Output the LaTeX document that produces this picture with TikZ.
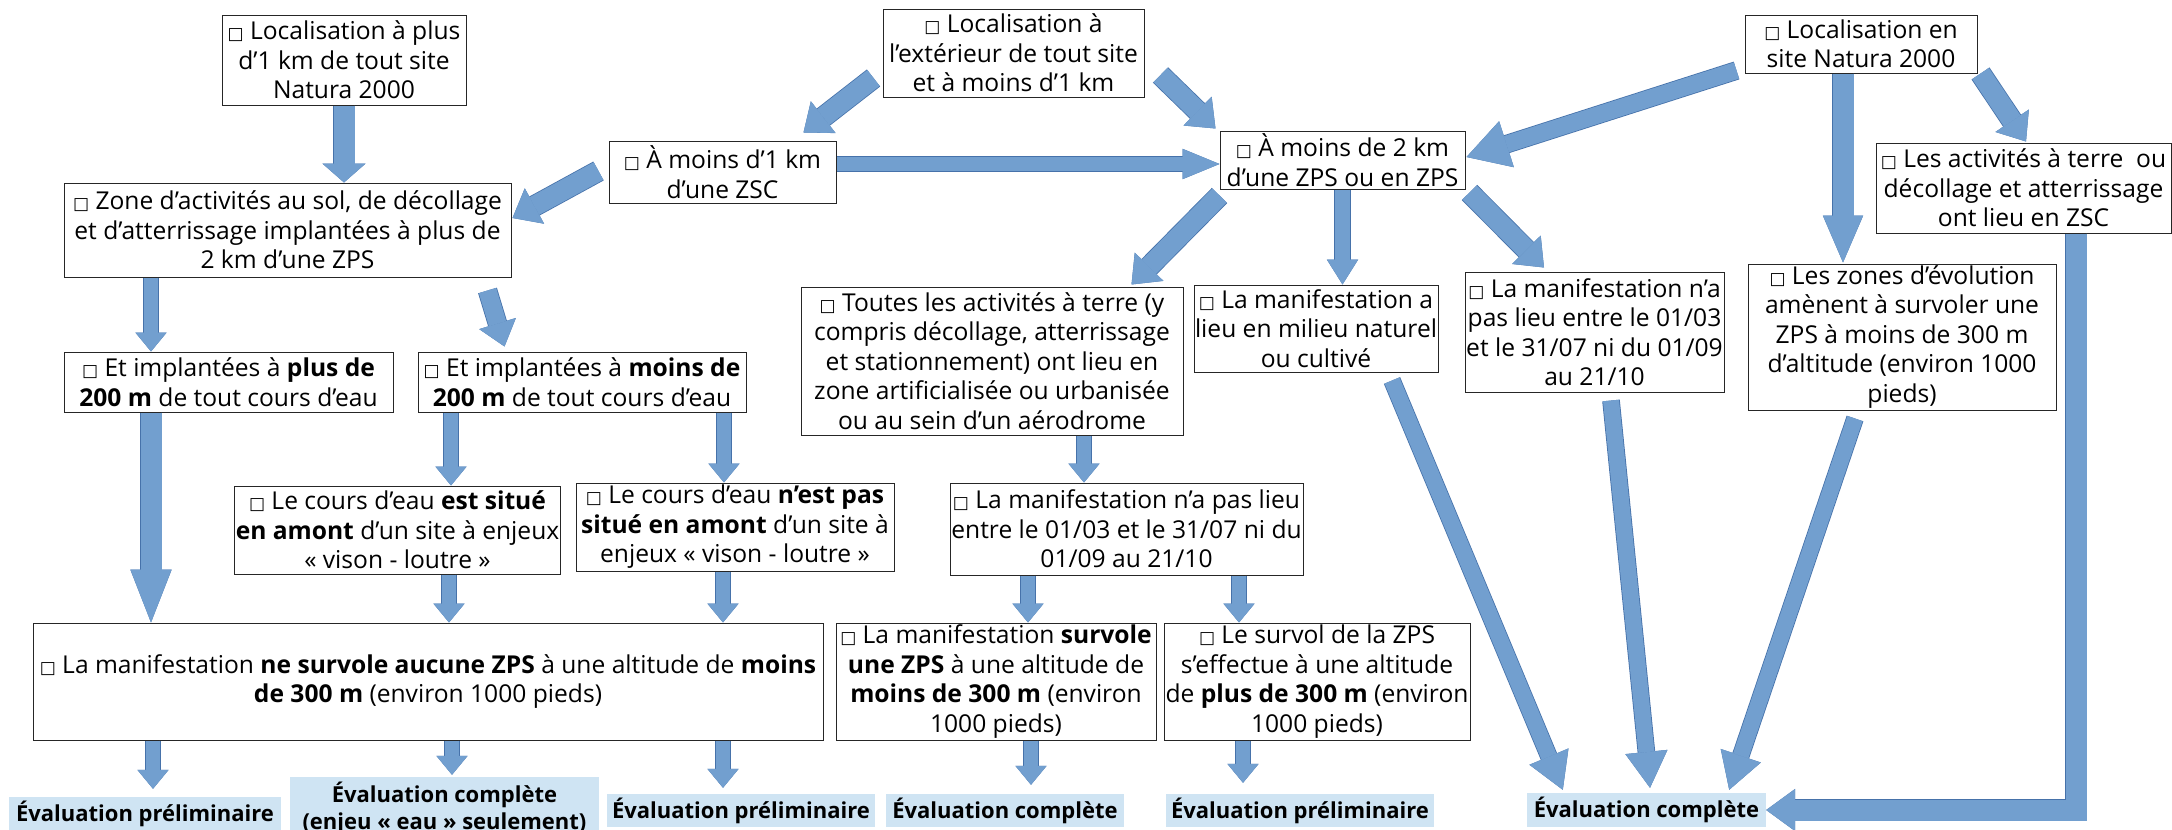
\documentclass[tikz,border=0pt]{standalone}
\usepackage{fontspec}
\setmainfont{Open Sans}
\newfontfamily\symfont{DejaVu Sans}
\usetikzlibrary{calc,arrows.meta}
\definecolor{arrowfill}{RGB}{114,159,207}
\definecolor{arrowedge}{RGB}{70,114,170}
\definecolor{outfill}{RGB}{207,228,243}
\def\chkbox{{\symfont\fontsize{17}{17}\selectfont □}}
\tikzset{
	box/.style={draw=black!85, line width=1pt, fill=white, align=center, inner sep=1pt},
	outcome/.style={fill=outfill, align=center, inner sep=1pt, font=\fontsize{22}{27}\selectfont\bfseries},
	blockarrow/.style n args={3}{draw=arrowfill, line width=#1,
		-{Triangle[width=#2, length=#3, line width=0.6pt, fill=arrowfill]},
		preaction={draw=arrowedge, line width=#1+1.6pt, -{Triangle[width=#2, length=#3, line width=2pt]}}},
	diagarrow/.style={blockarrow={20pt}{40pt}{25pt}},
	thinarrow/.style={blockarrow={14pt}{31pt}{19pt}},
	longarrow/.style={blockarrow={16pt}{42pt}{36pt}},
}

\begin{document}
\begin{tikzpicture}[x=1pt, y=-1pt, font=\fontsize{24.6}{29.5}\selectfont]
			%%%%% START %%%%%
			\useasboundingbox (0, 0) rectangle (2172, 830);
			
			\node[box, minimum width=244pt, minimum height=90pt] (A) at (344, 60) {\chkbox\ Localisation à plus\\d’1 km de tout site\\Natura 2000};
			\node[box, minimum width=261pt, minimum height=88pt] (B) at (1013.5, 53) {\chkbox\ Localisation à\\l’extérieur de tout site\\et à moins d’1 km};
			\node[box, minimum width=232pt, minimum height=58pt] (C) at (1861, 44) {\chkbox\ Localisation en\\site Natura 2000};
			
			\node[box, minimum width=227pt, minimum height=62pt] (D) at (722.5, 172) {\chkbox\ À moins d’1 km\\d’une ZSC};
			\node[box, minimum width=245pt, minimum height=58pt] (E) at (1342.5, 160) {\chkbox\ À moins de 2 km\\d’une ZPS ou en ZPS};
			\node[box, minimum width=447pt, minimum height=94pt] (F) at (287.5, 230) {\chkbox\ Zone d’activités au sol, de décollage\\et d’atterrissage implantées à plus de\\2 km d’une ZPS};
			\node[box, minimum width=295pt, minimum height=90pt] (G) at (2023.5, 188) {\chkbox\ Les activités à terre \ ou\\décollage et atterrissage\\ont lieu en ZSC};
			
			\node[box, minimum width=382pt, minimum height=148pt] (H) at (992, 361) {\chkbox\ Toutes les activités à terre (y\\compris décollage, atterrissage\\et stationnement) ont lieu en\\zone artificialisée ou urbanisée\\ou au sein d’un aérodrome};
			\node[box, minimum width=244pt, minimum height=87pt] (I) at (1316, 328.5) {\chkbox\ La manifestation a\\lieu en milieu naturel\\ou cultivé};
			\node[box, minimum width=259pt, minimum height=120pt] (J) at (1594.5, 332) {\chkbox\ La manifestation n’a\\pas lieu entre le 01/03\\et le 31/07 ni du 01/09\\au 21/10};
			\node[box, minimum width=308pt, minimum height=146pt] (K) at (1902, 337) {\chkbox\ Les zones d’évolution\\amènent à survoler une\\ZPS à moins de 300 m\\d’altitude (environ 1000\\pieds)};
			
			\node[box, minimum width=329pt, minimum height=60pt] (L) at (228.5, 382) {\chkbox\ Et implantées à \textbf{plus de}\\\textbf{200 m} de tout cours d’eau};
			\node[box, minimum width=328pt, minimum height=60pt] (M) at (582, 382) {\chkbox\ Et implantées à \textbf{moins de}\\\textbf{200 m} de tout cours d’eau};
			
			\node[box, minimum width=319pt, minimum height=88pt] (N) at (397.5, 530) {\chkbox\ Le cours d’eau \textbf{est situé}\\\textbf{en amont} d’un site à enjeux\\« vison - loutre »};
			\node[box, minimum width=318pt, minimum height=88pt] (O) at (735, 527) {\chkbox\ Le cours d’eau \textbf{n’est pas}\\\textbf{situé en amont} d’un site à\\enjeux « vison - loutre »};
			\node[box, minimum width=353pt, minimum height=92pt] (P) at (1126.5, 529) {\chkbox\ La manifestation n’a pas lieu\\entre le 01/03 et le 31/07 ni du\\01/09 au 21/10};
			
			\node[box, minimum width=790pt, minimum height=117pt] (Q) at (428, 681.5) {\chkbox\ La manifestation \textbf{ne survole aucune ZPS} à une altitude de \textbf{moins}\\\textbf{de 300 m} (environ 1000 pieds)};
			\node[box, minimum width=320pt, minimum height=117pt] (R) at (996, 681.5) {\chkbox\ La manifestation \textbf{survole}\\\textbf{une ZPS} à une altitude de\\\textbf{moins de 300 m} (environ\\1000 pieds)};
			\node[box, minimum width=306pt, minimum height=117pt] (S) at (1317, 681.5) {\chkbox\ Le survol de la ZPS\\s’effectue à une altitude\\de \textbf{plus de 300 m} (environ\\1000 pieds)};
			
			\node[outcome, minimum width=272pt, minimum height=33pt] (pre1) at (145, 813.5) {Évaluation préliminaire};
			\node[outcome, minimum width=309pt, minimum height=62pt] (comp1) at (444.5, 808) {Évaluation complète\\(enjeu « eau » seulement)};
			\node[outcome, minimum width=268pt, minimum height=33pt] (pre2) at (741, 810.5) {Évaluation préliminaire};
			\node[outcome, minimum width=238pt, minimum height=33pt] (comp2) at (1005, 810.5) {Évaluation complète};
			\node[outcome, minimum width=268pt, minimum height=33pt] (pre3) at (1300, 810.5) {Évaluation préliminaire};
			\node[outcome, minimum width=239pt, minimum height=34pt] (comp3) at (1646.5, 810) {Évaluation complète};
			
			% top row
			\draw[blockarrow={21pt}{43pt}{19pt}] (A.south) -- (A.south |- F.north);
			\draw[diagarrow] ($(B.west)+(-9,25)$) -- ($(D.north east)+(-33,-8)$);
			\draw[diagarrow] ($(B.east)+(16,22)$) -- ($(E.north west)+(-4,-2)$);
			\draw[blockarrow={14pt}{30pt}{37pt}] ($(D.east)+(0,-8)$) -- ($(E.west)+(0,4)$);
			\draw[diagarrow] ($(D.west)+(-10,-1)$) -- ($(F.east)+(1,-12)$);
			\draw[blockarrow={17pt}{48pt}{42pt}] ($(C.south west)+(-8,-3)$) -- ($(E.east)+(1,-3)$);
			\draw[blockarrow={21pt}{40pt}{47pt}] ($(C.south)+(-18,0)$) -- ($(K.north)+(-59,-1)$);
			\draw[diagarrow] ($(C.south east)+(3,0)$) -- ($(G.north)+(2.5,-1)$);
			
			\draw[diagarrow] ($(E.south west)+(0,6)$) -- ($(H.north east)+(-52,-2)$);
			\draw[blockarrow={15pt}{31pt}{25pt}] (E.south) -- (E.south |- I.north);
			\draw[diagarrow] ($(E.south east)+(4,3)$) -- ($(J.north)+(-50.5,-4)$);
			
			% left branch
			\draw[thinarrow] ($(F.south)+(-136.5,0)$) -- ($(L.north)+(-77.5,0)$);
			\draw[blockarrow={18pt}{38pt}{24pt}] ($(F.south east)+(-24,13)$) -- ($(M.north west)+(87,-5)$);
			\draw[blockarrow={21pt}{41pt}{53pt}] ($(L.south)+(-77.5,0)$) -- ($(Q.north)+(-277,0)$);
			\draw[thinarrow] ($(M.south)+(-131,0)$) -- ($(N.north)+(53.5,0)$);
			\draw[thinarrow] ($(M.south)+(142,0)$) -- ($(O.north)+(-11,0)$);
			\draw[thinarrow] ($(N.south)+(51.5,0)$) -- ($(Q.north)+(21,0)$);
			\draw[thinarrow] ($(O.south)+(-12,0)$) -- ($(Q.north)+(295,0)$);
			
			\draw[thinarrow] ($(H.south)+(92,0)$) -- ($(P.north)+(-42.5,0)$);
			\draw[thinarrow] ($(P.south)+(-98.5,0)$) -- ($(R.north)+(32,0)$);
			\draw[thinarrow] ($(P.south)+(112.5,0)$) -- ($(S.north)+(-78,0)$);
			
			% outcomes
			\draw[thinarrow] ($(Q.south)+(-275,0)$) -- ($(pre1.north)+(8,-8)$);
			\draw[thinarrow] ($(Q.south)+(24,0)$) -- ($(comp1.north)+(7.5,-2)$);
			\draw[thinarrow] ($(Q.south)+(295,0)$) -- ($(pre2.north)+(-18,-6)$);
			\draw[thinarrow] ($(R.south)+(35,0)$) -- ($(comp2.north)+(26,-9)$);
			\draw[thinarrow] ($(S.south)+(-74,0)$) -- ($(pre3.north)+(-57,-11)$);
			
			\draw[longarrow] ($(I.south)+(76,8)$) -- ($(comp3.north west)+(36,-3)$);
			\draw[longarrow] ($(J.south)+(16.5,8)$) -- ($(comp3.north)+(3.5,-5)$);
			\draw[longarrow] ($(K.south)+(-47,8)$) -- ($(comp3.north east)+(-37,-3)$);
			\draw[blockarrow={21pt}{42pt}{29pt}] ($(G.south)+(52.5,0)$) |- (comp3.east);
			
			%%%%% END %%%%%
\end{tikzpicture}
\end{document}
